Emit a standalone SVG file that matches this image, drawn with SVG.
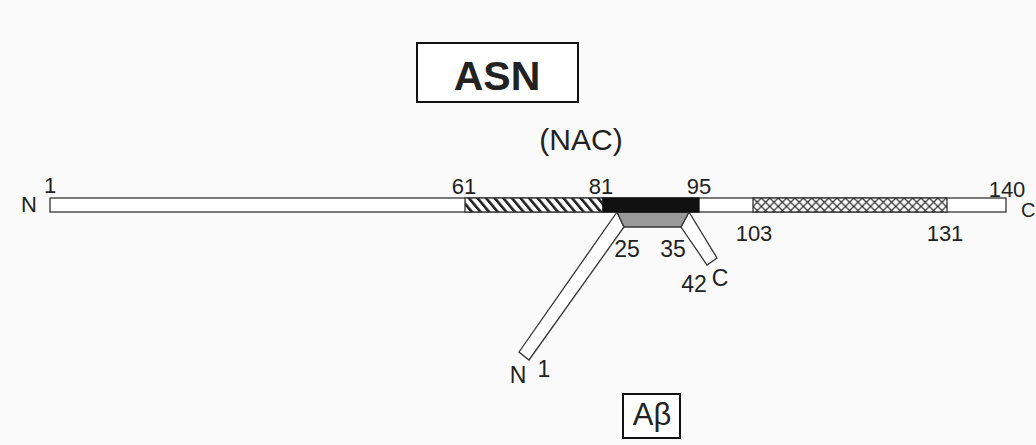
<svg xmlns="http://www.w3.org/2000/svg" width="1036" height="445" viewBox="0 0 1036 445">
<defs>
<pattern id="hatch" patternUnits="userSpaceOnUse" width="8.6" height="14" patternTransform="skewX(40)">
<rect width="8.6" height="14" fill="#fff"/>
<rect x="0" y="0" width="3.4" height="14" fill="#222"/>
</pattern>
<pattern id="cross" patternUnits="userSpaceOnUse" width="8.4" height="8.4" x="753" y="198">
<rect width="8.4" height="8.4" fill="#fff"/>
<path d="M0,0 L8.4,8.4 M8.4,0 L0,8.4" stroke="#333" stroke-width="1.3"/>
</pattern>
<style>
.t{font-family:"Liberation Sans",Arial,sans-serif;fill:#222;}
.n{font-size:22px;}
.m{font-size:23px;}
.c{font-size:20px;}
.bar{fill:#fff;stroke:#333;stroke-width:1.3;}
.box{fill:#fff;stroke:#111;stroke-width:2;}
</style>
</defs>
<rect width="1036" height="445" fill="#fafafa"/>
<g id="asn-label">
<rect class="box" x="417" y="43" width="161" height="59"/>
<text class="t" x="497" y="90" font-size="41" font-weight="bold" text-anchor="middle" fill="#111">ASN</text>
</g>
<g id="nac-label">
<text class="t" x="581" y="150" font-size="30" text-anchor="middle">(NAC)</text>
</g>
<g id="abeta">
<polygon class="bar" points="617,212 519,352 529,360 624,227"/>
<polygon class="bar" points="689,212 717,258 707,265 681,227"/>
<polygon points="617,212 689,212 681,227 624,227" fill="#999" stroke="#333" stroke-width="1.3"/>
<text class="t m" x="627" y="257" text-anchor="middle">25</text>
<text class="t m" x="673" y="257" text-anchor="middle">35</text>
<text class="t m" x="694" y="292" text-anchor="middle">42</text>
<text class="t m" x="720" y="286" text-anchor="middle">C</text>
<text class="t m" x="518" y="383" text-anchor="middle">N</text>
<text class="t m" x="544" y="377" text-anchor="middle">1</text>
</g>
<g id="asn-protein">
<rect class="bar" x="50" y="198" width="956" height="14"/>
<rect x="465" y="198" width="138" height="14" fill="url(#hatch)" stroke="#333" stroke-width="1.3"/>
<rect x="603" y="198" width="96" height="14" fill="#111" stroke="#111" stroke-width="1.3"/>
<rect x="753" y="198" width="194" height="14" fill="url(#cross)" stroke="#333" stroke-width="1.3"/>
<text class="t n" x="29" y="212" text-anchor="middle">N</text>
<text class="t n" x="50" y="193" text-anchor="middle">1</text>
<text class="t n" x="464" y="194" text-anchor="middle">61</text>
<text class="t n" x="601" y="194" text-anchor="middle">81</text>
<text class="t n" x="699" y="194" text-anchor="middle">95</text>
<text class="t n" x="1007" y="197" text-anchor="middle">140</text>
<text class="t c" x="1021" y="217">C</text>
<text class="t n" x="754" y="241" text-anchor="middle">103</text>
<text class="t n" x="945" y="241" text-anchor="middle">131</text>
</g>
<g id="abeta-label">
<rect class="box" x="623" y="394" width="57" height="44"/>
<text class="t" x="652" y="425" font-size="31" text-anchor="middle" fill="#111">Aβ</text>
</g>
<g id="connectors"></g>
</svg>
